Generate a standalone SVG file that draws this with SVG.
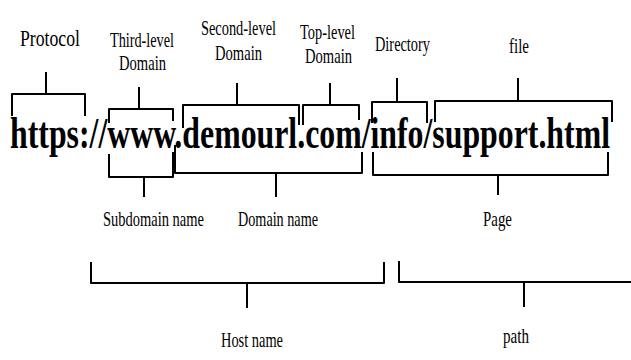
<svg xmlns="http://www.w3.org/2000/svg" width="631" height="360" viewBox="0 0 631 360">
<style>
.br{fill:none;stroke:#000;stroke-width:2;stroke-linejoin:round;stroke-linecap:butt}
.lb{font-family:"Liberation Serif","Times New Roman",serif;font-size:21px;fill:#000}
.url{font-family:"Liberation Serif","Times New Roman",serif;font-size:44px;font-weight:bold;fill:#000}
</style>
<rect width="631" height="360" fill="#fff"/>
<g id="url"><text class="url" x="10" y="148" textLength="600" lengthAdjust="spacingAndGlyphs">https://www.demourl.com/info/support.html</text></g>
<g id="protocol"><text class="lb" x="20" y="46" style="font-size:23px" textLength="60" lengthAdjust="spacingAndGlyphs">Protocol</text></g>
<g id="third-level"><text class="lb" x="110" y="46.5" textLength="64" lengthAdjust="spacingAndGlyphs">Third-level</text><text class="lb" x="119" y="70" textLength="47" lengthAdjust="spacingAndGlyphs">Domain</text></g>
<g id="second-level"><text class="lb" x="201" y="35" textLength="75" lengthAdjust="spacingAndGlyphs">Second-level</text><text class="lb" x="215" y="60" textLength="47" lengthAdjust="spacingAndGlyphs">Domain</text></g>
<g id="top-level"><text class="lb" x="300" y="39" textLength="55" lengthAdjust="spacingAndGlyphs">Top-level</text><text class="lb" x="305" y="63" textLength="47" lengthAdjust="spacingAndGlyphs">Domain</text></g>
<g id="directory"><text class="lb" x="375" y="51" textLength="55" lengthAdjust="spacingAndGlyphs">Directory</text></g>
<g id="file"><text class="lb" x="509" y="53" textLength="20" lengthAdjust="spacingAndGlyphs">file</text></g>
<g id="subdomain"><text class="lb" x="103" y="226" textLength="101" lengthAdjust="spacingAndGlyphs">Subdomain name</text></g>
<g id="domain-name"><text class="lb" x="238" y="226" textLength="80" lengthAdjust="spacingAndGlyphs">Domain name</text></g>
<g id="page"><text class="lb" x="483" y="226" textLength="29" lengthAdjust="spacingAndGlyphs">Page</text></g>
<g id="host-name"><text class="lb" x="221" y="347" textLength="62" lengthAdjust="spacingAndGlyphs">Host name</text></g>
<g id="path"><text class="lb" x="503" y="343" textLength="26" lengthAdjust="spacingAndGlyphs">path</text></g>
<g id="connectors">
<path class="br" d="M12,116 V94 H85 V116 M46,72 V94"/>
<path class="br" d="M109,123 V109 H173 V121 M139,87 V109"/>
<path class="br" d="M183,128 V105 H299 V125 M237,83 V105"/>
<path class="br" d="M303,125 V105 H359 V120 M330,83 V105"/>
<path class="br" d="M372,123 V102 H427 V123 M397,78 V102"/>
<path class="br" d="M435,122 V101 H612 V122 M518,78 V101"/>
<path class="br" d="M109,154 V177 H173 V152 M144,177 V197"/>
<path class="br" d="M175,145 V173 H362 V152 M276,173 V197"/>
<path class="br" d="M373,152 V175 H608 V152 M498,175 V195"/>
<path class="br" d="M91,262 V283 H384 V262 M247,283 V308"/>
<path class="br" d="M399,261 V282 H631 M524,282 V307"/>
</g>
</svg>
